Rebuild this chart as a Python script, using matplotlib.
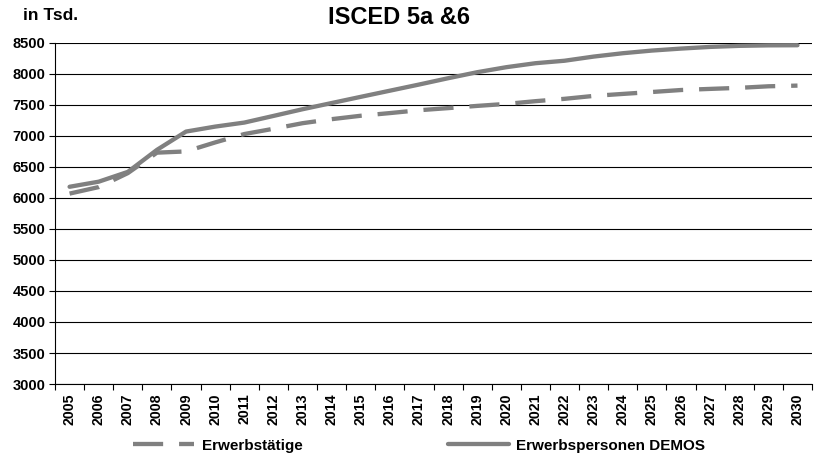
import numpy as np
import matplotlib.pyplot as plt
from matplotlib.ticker import FixedLocator

plt.rcParams['font.family'] = ['Liberation Sans', 'DejaVu Sans']
plt.rcParams['font.weight'] = 'bold'

years = [str(y) for y in range(2005, 2031)]

# Erwerbstätige (in Tsd.)
erwerbstaetige = [6070, 6175, 6400, 6730, 6750, 6895, 7030, 7115, 7205, 7270,
                  7325, 7368, 7414, 7448, 7484, 7516, 7560, 7598, 7645, 7677,
                  7708, 7740, 7758, 7775, 7800, 7811]

# Erwerbspersonen DEMOS (in Tsd.)
erwerbspersonen = [6180, 6262, 6420, 6775, 7070, 7150, 7215, 7322, 7430, 7530,
                   7630, 7729, 7828, 7930, 8027, 8108, 8172, 8212, 8279, 8333,
                   8376, 8408, 8435, 8452, 8460, 8462]

yticks = list(range(3000, 8501, 500))

fig = plt.figure(figsize=(8.14, 4.61), dpi=100)
ax = fig.add_axes([0.0676, 0.167, 0.930, 0.740])

x = np.arange(len(years))
grey = '#808080'

l1, = ax.plot(x, erwerbstaetige, color=grey, lw=3.1, dashes=(7.0, 3.7),
              solid_capstyle='butt', label='Erwerbstätige')
l2, = ax.plot(x, erwerbspersonen, color=grey, lw=3.1, solid_capstyle='round',
              label='Erwerbspersonen DEMOS')

ax.set_xlim(-0.5, len(years) - 0.5)
ax.set_ylim(3000, 8500)
ax.set_yticks(yticks)
ax.set_yticklabels([str(v) for v in yticks], fontsize=10.5, fontweight='bold')
ax.yaxis.grid(True, color='black', lw=0.8)
ax.set_axisbelow(True)

ax.set_xticks(x)
ax.set_xticklabels(years, rotation=90, fontsize=10.2, fontweight='bold')
ax.xaxis.set_minor_locator(FixedLocator(np.arange(-0.5, len(years), 1)))
ax.tick_params(axis='x', which='major', length=0, pad=7)
ax.tick_params(axis='x', which='minor', length=4, width=0.8, direction='out')
ax.tick_params(axis='y', length=4, width=0.8, direction='out', pad=3)

for s in ('top', 'right'):
    ax.spines[s].set_visible(False)
ax.spines['left'].set_linewidth(0.8)
ax.spines['bottom'].set_linewidth(0.8)

fig.text(0.490, 0.961, 'ISCED 5a &6', ha='center', va='center',
         fontsize=17, fontweight='bold')
fig.text(0.028, 0.967, 'in Tsd.', ha='left', va='center',
         fontsize=12.5, fontweight='bold')

fig.legend(handles=[l1, l2], loc='center', bbox_to_anchor=(0.515, 0.033),
           ncol=2, frameon=False, handlelength=4,
           handletextpad=0.5, columnspacing=9.5,
           prop={'weight': 'bold', 'size': 11})

fig.savefig('out.png', dpi=100)
